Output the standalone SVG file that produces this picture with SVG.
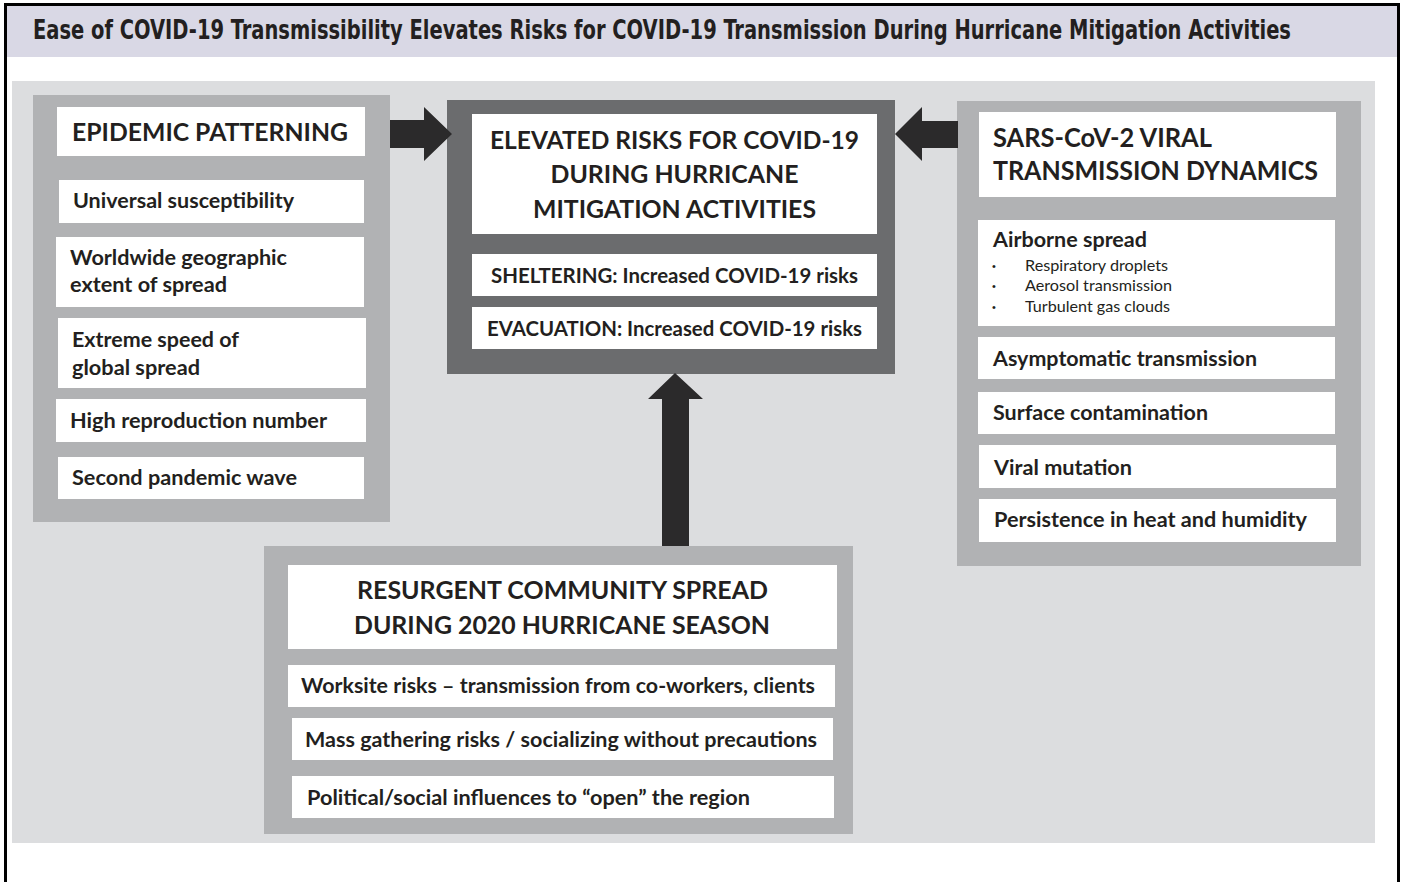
<svg xmlns="http://www.w3.org/2000/svg" width="1404" height="882" viewBox="0 0 1404 882">
<style>
.t{font-family:Lato,"Open Sans","Liberation Sans",sans-serif;font-weight:bold;fill:#231f20}
.h{font-size:25px}
.i{font-size:20px}
.b{font-family:Lato,"Open Sans","Liberation Sans",sans-serif;font-size:15px;fill:#231f20}
.d{font-family:"Liberation Sans",sans-serif;font-size:11px;fill:#231f20}
.w{fill:#ffffff}
.p{fill:#b1b2b4}
.ar{fill:#2b2a2b}
</style>
<rect x="0" y="0" width="1404" height="882" fill="#ffffff"/>
<rect x="5.5" y="4.5" width="1393" height="900" fill="#ffffff" stroke="#000000" stroke-width="3"/>
<rect x="7" y="6" width="1390" height="51" fill="#d9d8e5"/>
<text transform="scale(0.8331,1)" x="39.6" y="39" textLength="1510" lengthAdjust="spacingAndGlyphs" style="font-family:'Liberation Sans Narrow','DejaVu Sans Condensed','Liberation Sans',sans-serif;font-stretch:condensed;font-weight:bold;font-size:26px;fill:#231f20">Ease of COVID-19 Transmissibility Elevates Risks for COVID-19 Transmission During Hurricane Mitigation Activities</text>
<rect x="12" y="81" width="1363" height="762" fill="#dcdddf"/>

<g id="epidemic">
<rect class="p" x="33" y="95" width="357" height="427"/>
<rect class="w" x="57" y="107" width="308" height="49"/>
<text class="t h" x="72" y="141" textLength="276" lengthAdjust="spacingAndGlyphs">EPIDEMIC PATTERNING</text>
<rect class="w" x="59" y="180" width="305" height="43"/>
<text class="t i" x="73" y="208" textLength="221" lengthAdjust="spacingAndGlyphs">Universal susceptibility</text>
<rect class="w" x="56" y="237" width="308" height="70"/>
<text class="t i" x="70" y="265" textLength="217" lengthAdjust="spacingAndGlyphs">Worldwide geographic</text>
<text class="t i" x="70" y="292" textLength="157" lengthAdjust="spacingAndGlyphs">extent of spread</text>
<rect class="w" x="58" y="318" width="308" height="70"/>
<text class="t i" x="72" y="347" textLength="167" lengthAdjust="spacingAndGlyphs">Extreme speed of</text>
<text class="t i" x="72" y="375" textLength="128" lengthAdjust="spacingAndGlyphs">global spread</text>
<rect class="w" x="56" y="399" width="310" height="43"/>
<text class="t i" x="70" y="428" textLength="257" lengthAdjust="spacingAndGlyphs">High reproduction number</text>
<rect class="w" x="58" y="457" width="306" height="42"/>
<text class="t i" x="72" y="485" textLength="225" lengthAdjust="spacingAndGlyphs">Second pandemic wave</text>
</g>

<g id="elevated">
<rect x="447" y="100" width="448" height="274" fill="#6b6c6e"/>
<rect class="w" x="472" y="114" width="405" height="120"/>
<text class="t h" x="674.5" y="149" text-anchor="middle" textLength="369" lengthAdjust="spacingAndGlyphs">ELEVATED RISKS FOR COVID-19</text>
<text class="t h" x="674.5" y="183" text-anchor="middle" textLength="248" lengthAdjust="spacingAndGlyphs">DURING HURRICANE</text>
<text class="t h" x="674.5" y="218" text-anchor="middle" textLength="283" lengthAdjust="spacingAndGlyphs">MITIGATION ACTIVITIES</text>
<rect class="w" x="472" y="254" width="405" height="42"/>
<text class="t i" x="674.5" y="283" text-anchor="middle" textLength="367" lengthAdjust="spacingAndGlyphs">SHELTERING: Increased COVID-19 risks</text>
<rect class="w" x="472" y="307" width="405" height="42"/>
<text class="t i" x="674.5" y="336" text-anchor="middle" textLength="375" lengthAdjust="spacingAndGlyphs">EVACUATION: Increased COVID-19 risks</text>
</g>

<g id="sars">
<rect class="p" x="957" y="101" width="404" height="465"/>
<rect class="w" x="979" y="112" width="357" height="85"/>
<text class="t" style="font-size:26px" x="993" y="147" textLength="219" lengthAdjust="spacingAndGlyphs">SARS-CoV-2 VIRAL</text>
<text class="t" style="font-size:26px" x="993" y="180" textLength="325" lengthAdjust="spacingAndGlyphs">TRANSMISSION DYNAMICS</text>
<rect class="w" x="978" y="220" width="357" height="106"/>
<text class="t i" x="993" y="247" textLength="154" lengthAdjust="spacingAndGlyphs">Airborne spread</text>
<text class="d" x="992" y="270">•</text>
<text class="b" x="1025" y="271" textLength="143" lengthAdjust="spacingAndGlyphs">Respiratory droplets</text>
<text class="d" x="992" y="290">•</text>
<text class="b" x="1025" y="291" textLength="147" lengthAdjust="spacingAndGlyphs">Aerosol transmission</text>
<text class="d" x="992" y="311">•</text>
<text class="b" x="1025" y="312" textLength="145" lengthAdjust="spacingAndGlyphs">Turbulent gas clouds</text>
<rect class="w" x="978" y="337" width="357" height="42"/>
<text class="t i" x="993" y="366" textLength="264" lengthAdjust="spacingAndGlyphs">Asymptomatic transmission</text>
<rect class="w" x="978" y="392" width="357" height="42"/>
<text class="t i" x="993" y="420" textLength="215" lengthAdjust="spacingAndGlyphs">Surface contamination</text>
<rect class="w" x="979" y="445" width="357" height="43"/>
<text class="t i" x="994" y="475" textLength="138" lengthAdjust="spacingAndGlyphs">Viral mutation</text>
<rect class="w" x="979" y="499" width="357" height="43"/>
<text class="t i" x="994" y="527" textLength="313" lengthAdjust="spacingAndGlyphs">Persistence in heat and humidity</text>
</g>

<g id="resurgent">
<rect class="p" x="264" y="546" width="589" height="288"/>
<rect class="w" x="288" y="565" width="549" height="84"/>
<text class="t" style="font-size:24px" x="562.5" y="599" text-anchor="middle" textLength="411" lengthAdjust="spacingAndGlyphs">RESURGENT COMMUNITY SPREAD</text>
<text class="t" style="font-size:24px" x="562" y="634" text-anchor="middle" textLength="416" lengthAdjust="spacingAndGlyphs">DURING 2020 HURRICANE SEASON</text>
<rect class="w" x="288" y="665" width="547" height="42"/>
<text class="t i" x="301" y="693" textLength="514" lengthAdjust="spacingAndGlyphs">Worksite risks – transmission from co-workers, clients</text>
<rect class="w" x="292" y="718" width="541" height="42"/>
<text class="t i" x="305" y="747" textLength="512" lengthAdjust="spacingAndGlyphs">Mass gathering risks / socializing without precautions</text>
<rect class="w" x="292" y="776" width="542" height="42"/>
<text class="t i" x="307" y="805" textLength="443" lengthAdjust="spacingAndGlyphs">Political/social influences to “open” the region</text>
</g>

<g id="connectors">
<polygon class="ar" points="390,120 424,120 424,107 452,134 424,161 424,148 390,148"/>
<polygon class="ar" points="958,121 922,121 922,107 895,134 922,161 922,148 958,148"/>
<polygon class="ar" points="662,546 662,399 648,399 675,373 703,399 689,399 689,546"/>
</g>
</svg>
